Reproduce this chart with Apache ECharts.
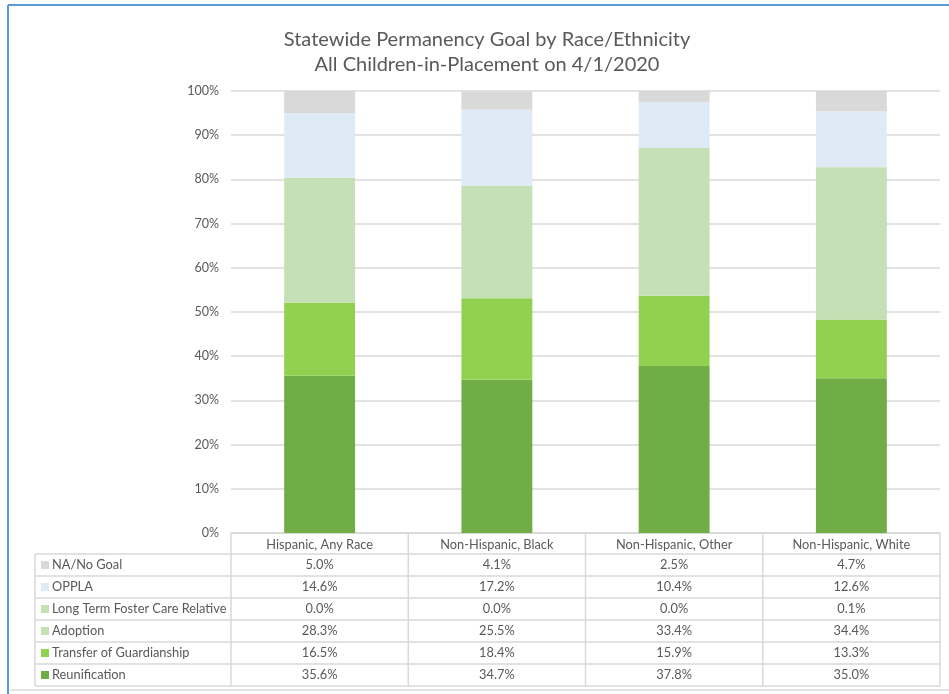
<!DOCTYPE html>
<html>
<head>
<meta charset="utf-8">
<script src="https://cdn.jsdelivr.net/npm/echarts@6/dist/echarts.min.js"></script>
<style>
  html, body { margin: 0; padding: 0; background: #fff; }
  #chart { width: 949px; height: 694px; }
</style>
</head>
<body>
<div id="chart"></div>
<script>
// Race/ethnicity groups (x categories)
const categories = ['Hispanic, Any Race', 'Non-Hispanic, Black', 'Non-Hispanic, Other', 'Non-Hispanic, White'];

// Permanency goal shares (percent), per group
const reunification = [35.6, 34.7, 37.8, 35.0];
const transferOfGuardianship = [16.5, 18.4, 15.9, 13.3];
const adoption = [28.3, 25.5, 33.4, 34.4];
const longTermFosterCareRelative = [0.0, 0.0, 0.0, 0.1];
const oppla = [14.6, 17.2, 10.4, 12.6];
const naNoGoal = [5.0, 4.1, 2.5, 4.7];

const yTicks = [0, 10, 20, 30, 40, 50, 60, 70, 80, 90, 100];

// Stack order, bottom to top
const seriesDefs = [
  { name: 'Reunification', data: reunification, color: '#70AD47' },
  { name: 'Transfer of Guardianship', data: transferOfGuardianship, color: '#92D050' },
  { name: 'Adoption', data: adoption, color: '#C5E0B4' },
  { name: 'Long Term Foster Care Relative', data: longTermFosterCareRelative, color: '#C5E0B4' },
  { name: 'OPPLA', data: oppla, color: '#DEEBF7' },
  { name: 'NA/No Goal', data: naNoGoal, color: '#D9D9D9' }
];

const FONT = 'Lato, "Open Sans", sans-serif';
const TEXT = '#595959';
const LINE = '#D9D9D9';

const chart = echarts.init(document.getElementById('chart'), null, { renderer: 'canvas' });

const gridBox = { left: 231, right: 9, top: 91, bottom: 161 };

chart.setOption({
  animation: false,
  backgroundColor: '#fff',
  textStyle: { fontFamily: FONT },
  title: {
    text: 'Statewide Permanency Goal by Race/Ethnicity\nAll Children-in-Placement on 4/1/2020',
    left: 482, top: 22, textAlign: 'center',
    textStyle: { fontFamily: FONT, fontSize: 20, fontWeight: 'normal', color: TEXT, lineHeight: 25 }
  },
  grid: gridBox,
  xAxis: {
    type: 'category',
    data: categories,
    axisLine: { show: true, lineStyle: { color: LINE, width: 1 } },
    axisTick: { show: false },
    axisLabel: { show: false }
  },
  yAxis: {
    type: 'value',
    min: yTicks[0], max: yTicks[yTicks.length - 1], interval: 10,
    axisLine: { show: false },
    axisTick: { show: false },
    axisLabel: { formatter: '{value}%', color: TEXT, fontSize: 12.5, fontFamily: FONT, margin: 12 },
    splitLine: { lineStyle: { color: LINE, width: 1.5 } }
  },
  series: seriesDefs.map(s => ({
    name: s.name,
    type: 'bar',
    stack: 'total',
    barWidth: '40%',
    data: s.data,
    itemStyle: { color: s.color }
  }))
});

// Data table under the plot, aligned with the category axis
function buildTable() {
  const left = gridBox.left;
  const right = 949 - gridBox.right;
  const top = 694 - gridBox.bottom;
  const headerH = 21;
  const rowH = 22;
  const tableLeft = 35;
  const rows = seriesDefs.slice().reverse();
  const bottom = top + headerH + rows.length * rowH;
  const colW = (right - left) / categories.length;
  const cellFont = '12.8px ' + FONT;
  const g = [];

  const hLine = (x1, x2, y) => g.push({ type: 'line', shape: { x1, y1: y, x2, y2: y }, style: { stroke: LINE, lineWidth: 1.5 }, silent: true });
  const vLine = (x, y1, y2) => g.push({ type: 'line', shape: { x1: x, y1, x2: x, y2 }, style: { stroke: LINE, lineWidth: 1.5 }, silent: true });

  hLine(left, right, top);
  for (let r = 0; r <= rows.length; r++) hLine(tableLeft, right, top + headerH + r * rowH);
  vLine(tableLeft, top + headerH, bottom);
  for (let c = 0; c <= categories.length; c++) vLine(left + c * colW, top, bottom);

  categories.forEach((cat, c) => {
    const cx = chart.convertToPixel({ xAxisIndex: 0 }, cat);
    g.push({ type: 'text', x: cx, y: top + headerH / 2 + 1, silent: true,
      style: { text: cat, fill: TEXT, font: cellFont, align: 'center', verticalAlign: 'middle' } });
    rows.forEach((s, r) => {
      const cy = top + headerH + r * rowH + rowH / 2;
      g.push({ type: 'text', x: cx, y: cy, silent: true,
        style: { text: s.data[c].toFixed(1) + '%', fill: TEXT, font: cellFont, align: 'center', verticalAlign: 'middle' } });
    });
  });

  rows.forEach((s, r) => {
    const cy = top + headerH + r * rowH + rowH / 2;
    g.push({ type: 'rect', shape: { x: 41, y: cy - 4, width: 8, height: 8 }, style: { fill: s.color }, silent: true });
    g.push({ type: 'text', x: 52, y: cy, silent: true,
      style: { text: s.name, fill: TEXT, font: cellFont, align: 'left', verticalAlign: 'middle' } });
  });

  // Outer frame of the chart area
  g.push({ type: 'line', shape: { x1: 8, y1: 5, x2: 949, y2: 5 }, style: { stroke: '#5B9BD5', lineWidth: 2 }, silent: true });
  g.push({ type: 'line', shape: { x1: 8, y1: 5, x2: 8, y2: 694 }, style: { stroke: '#5B9BD5', lineWidth: 2 }, silent: true });
  g.push({ type: 'line', shape: { x1: 10, y1: 690, x2: 949, y2: 690 }, style: { stroke: LINE, lineWidth: 1.5 }, silent: true });

  chart.setOption({ graphic: g });
}
buildTable();
</script>
</body>
</html>
